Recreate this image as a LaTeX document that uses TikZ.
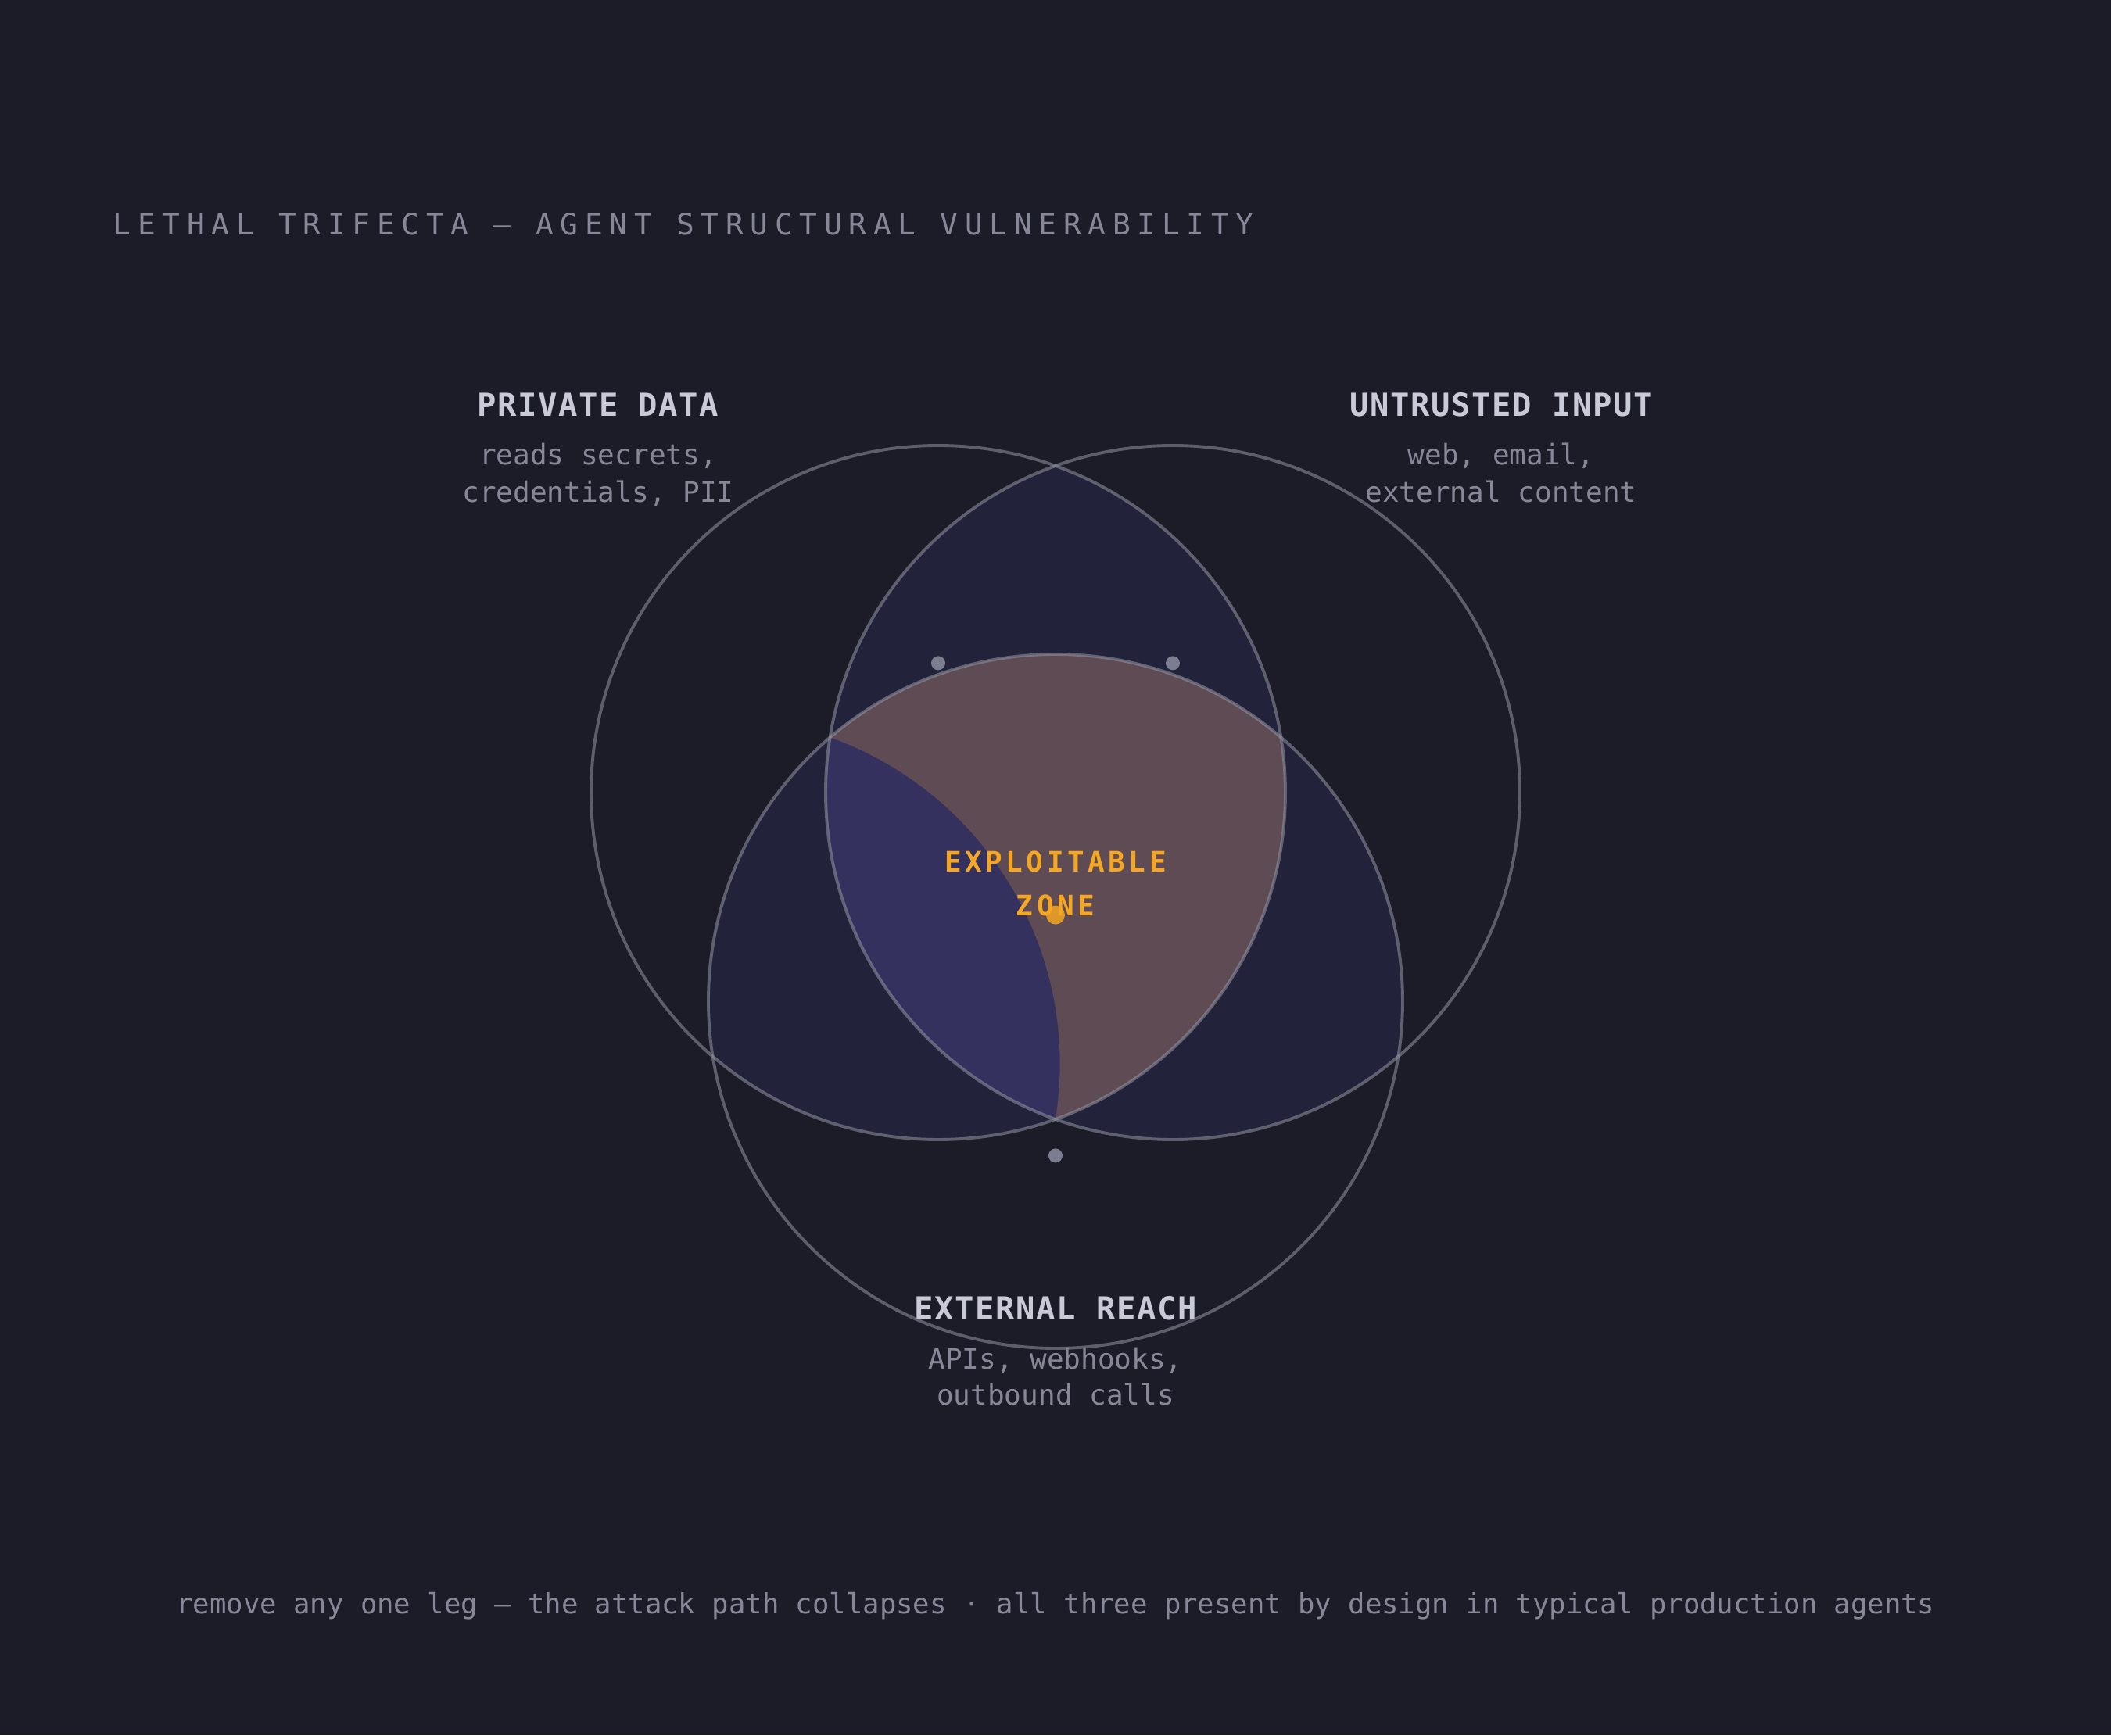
\documentclass[tikz,border=0pt]{standalone}
\usepackage{fontspec}
\setmonofont{DejaVu Sans Mono}
\newfontfamily\titlef[LetterSpace=23.1]{DejaVu Sans Mono}
\newfontfamily\headf[LetterSpace=4]{DejaVu Sans Mono}
\newfontfamily\zonef[LetterSpace=12.5]{DejaVu Sans Mono}
\newfontfamily\plainf{DejaVu Sans Mono}
\definecolor{bgc}{HTML}{1B1C28}
\definecolor{lensc}{HTML}{23223B}
\definecolor{triplec}{HTML}{35315E}
\definecolor{brownc}{HTML}{5E4B53}
\definecolor{ringc}{HTML}{9496A3}
\definecolor{headc}{HTML}{C8CAD8}
\definecolor{subc}{HTML}{868897}
\definecolor{dotc}{HTML}{7B7E91}
\definecolor{orangec}{HTML}{F5A623}
\begin{document}
\begin{tikzpicture}[x=1pt,y=1pt,
  txt/.style={inner sep=0pt, anchor=base},
  titlestyle/.style={inner sep=0pt, anchor=base west, text=subc, font=\titlef\fontsize{12.6}{15}\selectfont},
  head/.style={txt, text=headc, font=\headf\bfseries\fontsize{13.5}{16}\selectfont},
  sub/.style={txt, text=subc, font=\plainf\fontsize{12}{15}\selectfont},
  footstyle/.style={txt, text=subc, font=\plainf\fontsize{11.86}{15}\selectfont},
  zone/.style={txt, text=orangec, font=\zonef\bfseries\fontsize{12}{15}\selectfont},
  ring/.style={draw=ringc, draw opacity=0.55, line width=1.3pt},
  dotg/.style={fill=dotc},
]
\fill[bgc] (0,0) rectangle (900,740);
\useasboundingbox (0,0) rectangle (900,740);

\coordinate (C1) at (400,402);
\coordinate (C2) at (500,402);
\coordinate (C3) at (450,313);

% pairwise overlaps
\begin{scope}\clip (C1) circle (148pt); \fill[lensc] (C2) circle (148pt); \end{scope}
\begin{scope}\clip (C1) circle (148pt); \fill[lensc] (C3) circle (148pt); \end{scope}
\begin{scope}\clip (C2) circle (148pt); \fill[lensc] (C3) circle (148pt); \end{scope}
% triple overlap
\begin{scope}\clip (C1) circle (148pt); \clip (C2) circle (148pt); \fill[triplec] (C3) circle (148pt); \end{scope}
% exploitable zone fill
\coordinate (P1) at (353.884,425.543);
\fill[brownc] (P1) arc[start angle=130.497, end angle=49.503, radius=148pt]
  arc[start angle=9.153, end angle=-70.254, radius=148pt]
  arc[start angle=-9.153, end angle=70.254, radius=148pt] -- cycle;

% circle outlines
\draw[ring] (C1) circle (148pt);
\draw[ring] (C2) circle (148pt);
\draw[ring] (C3) circle (148pt);

% dots
\fill[dotg] (400,457.2) circle (3pt);
\fill[dotg] (500,457.2) circle (3pt);
\fill[dotg] (450,247.2) circle (3pt);

% title
\node[titlestyle] (title) at (48,639.7) {LETHAL TRIFECTA — AGENT STRUCTURAL VULNERABILITY};

% labels
\node[head] (pd) at (255,562.4) {PRIVATE DATA};
\node[sub] (pd1) at (255,541.7) {reads secrets,};
\node[sub] (pd2) at (255,525.9) {credentials, PII};

\node[head] (ui) at (640,562.4) {UNTRUSTED INPUT};
\node[sub] (ui1) at (640,541.7) {web, email,};
\node[sub] (ui2) at (640,525.9) {external content};

\node[head] (er) at (450,177.2) {EXTERNAL REACH};
\node[sub] (er1) at (450,156.3) {APIs, webhooks,};
\node[sub] (er2) at (450,140.8) {outbound calls};

\node[zone] (ez1) at (450,368.3) {EXPLOITABLE};
\node[zone] (ez2) at (450,349.4) {ZONE};
\fill[orangec, fill opacity=0.85] (450,349.8) circle (4pt);

% footer
\node[footstyle] (foot) at (450,51.7) {remove any one leg — the attack path collapses · all three present by design in typical production agents};
\end{tikzpicture}
\end{document}
